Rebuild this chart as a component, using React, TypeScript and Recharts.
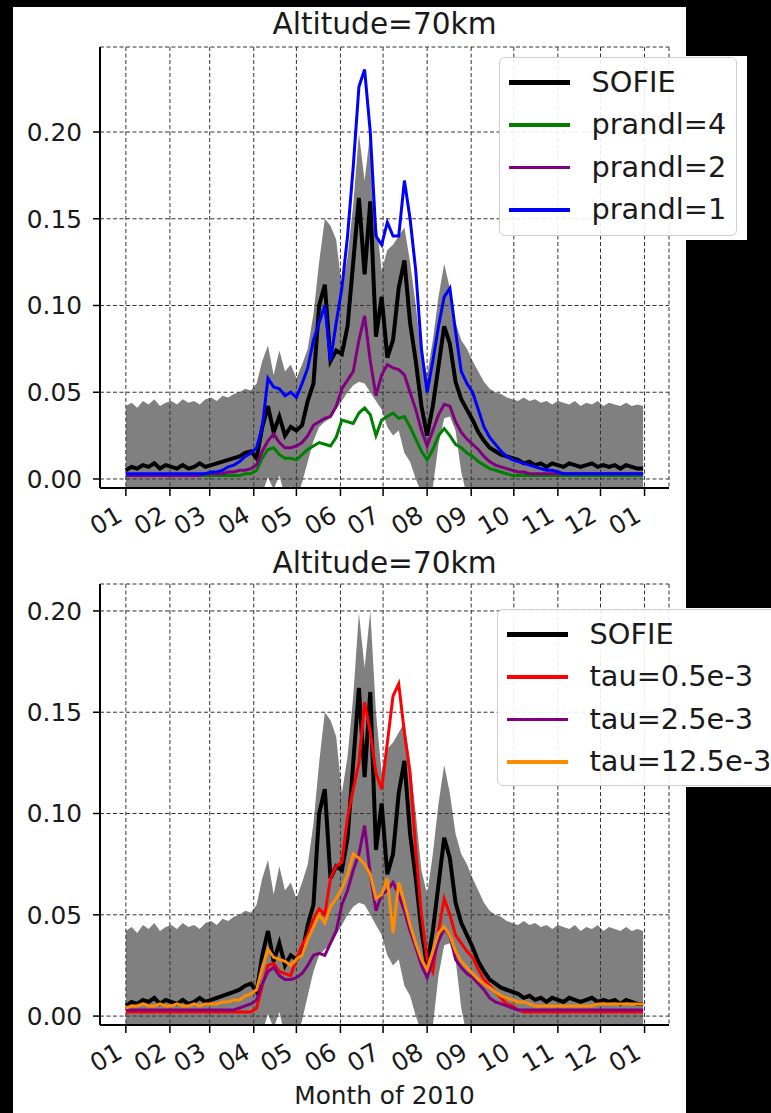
import React from 'react';
import { ComposedChart, Line, Area, XAxis, YAxis, CartesianGrid, Legend } from 'recharts';

// day of year 2010, sampled every 4 days
const days = [
  0, 4, 8, 12, 16, 20, 24, 28, 32, 36,
  40, 44, 48, 52, 56, 60, 64, 68, 72, 76,
  80, 84, 88, 92, 96, 100, 104, 108, 112, 116,
  120, 124, 128, 132, 136, 140, 144, 148, 152, 156,
  160, 164, 168, 172, 176, 180, 184, 188, 192, 196,
  200, 204, 208, 212, 216, 220, 224, 228, 232, 236,
  240, 244, 248, 252, 256, 260, 264, 268, 272, 276,
  280, 284, 288, 292, 296, 300, 304, 308, 312, 316,
  320, 324, 328, 332, 336, 340, 344, 348, 352, 356,
  360, 364,
];

const monthTicks = [0, 31, 59, 90, 120, 151, 181, 212, 243, 273, 304, 334, 365];
const monthLabels = ['01', '02', '03', '04', '05', '06', '07', '08', '09', '10', '11', '12', '01'];
const yTicks = [0, 0.05, 0.1, 0.15, 0.2];

const sofie = [
  0.005, 0.007, 0.006, 0.008, 0.007, 0.009, 0.006, 0.008, 0.007, 0.006,
  0.008, 0.006, 0.007, 0.009, 0.007, 0.008, 0.009, 0.010, 0.011, 0.012,
  0.013, 0.015, 0.016, 0.012, 0.030, 0.042, 0.027, 0.036, 0.025, 0.030,
  0.028, 0.031, 0.045, 0.055, 0.100, 0.112, 0.068, 0.074, 0.072, 0.088,
  0.125, 0.162, 0.118, 0.160, 0.082, 0.105, 0.070, 0.080, 0.110, 0.126,
  0.090, 0.068, 0.042, 0.025, 0.042, 0.065, 0.088, 0.078, 0.056, 0.046,
  0.040, 0.034, 0.027, 0.022, 0.018, 0.016, 0.014, 0.013, 0.012, 0.011,
  0.009, 0.010, 0.008, 0.009, 0.007, 0.009, 0.008, 0.007, 0.009, 0.008,
  0.007, 0.008, 0.009, 0.007, 0.008, 0.007, 0.008, 0.006, 0.008, 0.007,
  0.006, 0.006,
];

const bandHigh = [
  0.042, 0.044, 0.041, 0.045, 0.043, 0.046, 0.042, 0.044, 0.045, 0.043,
  0.046, 0.044, 0.045, 0.043, 0.046, 0.047, 0.045, 0.048, 0.047, 0.049,
  0.050, 0.052, 0.051, 0.055, 0.068, 0.077, 0.060, 0.074, 0.062, 0.066,
  0.058, 0.066, 0.075, 0.095, 0.125, 0.150, 0.146, 0.138, 0.110, 0.128,
  0.158, 0.199, 0.172, 0.200, 0.150, 0.120, 0.132, 0.135, 0.140, 0.145,
  0.125, 0.100, 0.072, 0.060, 0.080, 0.105, 0.124, 0.110, 0.090, 0.080,
  0.075, 0.068, 0.062, 0.056, 0.052, 0.050, 0.049, 0.047, 0.046, 0.045,
  0.047, 0.045, 0.046, 0.044, 0.045, 0.043, 0.045, 0.044, 0.043, 0.045,
  0.042, 0.044, 0.043, 0.045, 0.042, 0.044, 0.043, 0.042, 0.044, 0.042,
  0.043, 0.042,
];

const bandLow = [
  -0.032, -0.030, -0.033, -0.031, -0.034, -0.030, -0.032, -0.031, -0.033, -0.030,
  -0.032, -0.031, -0.033, -0.030, -0.032, -0.031, -0.033, -0.032, -0.030, -0.031,
  -0.030, -0.029, -0.028, -0.026, -0.008, 0.001, -0.006, 0.002, -0.010, -0.004,
  -0.012, -0.002, 0.010, 0.022, 0.030, 0.033, 0.035, 0.040, 0.045, 0.050,
  0.054, 0.056, 0.055, 0.050, 0.045, 0.040, 0.030, 0.025, 0.028, 0.015,
  0.010, 0.000, -0.008, -0.012, -0.005, 0.020, 0.035, 0.036, 0.028, 0.004,
  -0.010, -0.020, -0.025, -0.028, -0.030, -0.031, -0.033, -0.031, -0.032, -0.030,
  -0.033, -0.031, -0.032, -0.030, -0.033, -0.031, -0.032, -0.030, -0.033, -0.031,
  -0.032, -0.030, -0.033, -0.031, -0.032, -0.030, -0.033, -0.031, -0.032, -0.030,
  -0.031, -0.032,
];

const prandl4 = [
  0.002, 0.002, 0.002, 0.002, 0.002, 0.002, 0.002, 0.002, 0.002, 0.002,
  0.002, 0.002, 0.002, 0.002, 0.002, 0.002, 0.002, 0.002, 0.002, 0.002,
  0.002, 0.003, 0.003, 0.005, 0.012, 0.017, 0.018, 0.014, 0.012, 0.012,
  0.011, 0.014, 0.017, 0.019, 0.021, 0.020, 0.019, 0.024, 0.034, 0.033,
  0.032, 0.038, 0.041, 0.037, 0.025, 0.034, 0.036, 0.038, 0.035, 0.036,
  0.030, 0.023, 0.016, 0.011, 0.017, 0.025, 0.029, 0.025, 0.020, 0.018,
  0.015, 0.013, 0.010, 0.008, 0.006, 0.005, 0.004, 0.003, 0.002, 0.002,
  0.002, 0.002, 0.002, 0.002, 0.002, 0.002, 0.002, 0.002, 0.002, 0.002,
  0.002, 0.002, 0.002, 0.002, 0.002, 0.002, 0.002, 0.002, 0.002, 0.002,
  0.002, 0.002,
];

const prandl2 = [
  0.002, 0.002, 0.002, 0.002, 0.002, 0.002, 0.002, 0.002, 0.002, 0.002,
  0.002, 0.002, 0.002, 0.002, 0.003, 0.003, 0.003, 0.003, 0.004, 0.004,
  0.005, 0.005, 0.006, 0.008, 0.016, 0.022, 0.026, 0.021, 0.018, 0.018,
  0.019, 0.021, 0.025, 0.031, 0.033, 0.035, 0.036, 0.042, 0.052, 0.057,
  0.062, 0.080, 0.094, 0.068, 0.048, 0.060, 0.066, 0.064, 0.063, 0.060,
  0.050, 0.040, 0.028, 0.019, 0.028, 0.037, 0.043, 0.042, 0.033, 0.027,
  0.023, 0.020, 0.017, 0.013, 0.010, 0.008, 0.007, 0.006, 0.005, 0.004,
  0.004, 0.003, 0.003, 0.003, 0.003, 0.003, 0.003, 0.003, 0.003, 0.003,
  0.003, 0.003, 0.003, 0.003, 0.003, 0.003, 0.003, 0.003, 0.003, 0.003,
  0.003, 0.003,
];

const prandl1 = [
  0.003, 0.003, 0.003, 0.003, 0.003, 0.003, 0.003, 0.003, 0.003, 0.003,
  0.003, 0.003, 0.003, 0.003, 0.003, 0.004, 0.004, 0.005, 0.007, 0.008,
  0.010, 0.013, 0.015, 0.018, 0.030, 0.058, 0.053, 0.052, 0.048, 0.050,
  0.047, 0.055, 0.064, 0.080, 0.090, 0.100, 0.068, 0.090, 0.110, 0.140,
  0.180, 0.226, 0.236, 0.200, 0.140, 0.135, 0.148, 0.140, 0.140, 0.172,
  0.150, 0.120, 0.075, 0.050, 0.068, 0.088, 0.105, 0.110, 0.085, 0.062,
  0.055, 0.050, 0.040, 0.030, 0.024, 0.020, 0.016, 0.013, 0.011, 0.010,
  0.009, 0.008, 0.007, 0.006, 0.005, 0.005, 0.004, 0.003, 0.003, 0.003,
  0.003, 0.003, 0.003, 0.003, 0.003, 0.003, 0.003, 0.003, 0.003, 0.003,
  0.003, 0.003,
];

const tau05 = [
  0.002, 0.002, 0.002, 0.002, 0.002, 0.002, 0.002, 0.002, 0.002, 0.002,
  0.002, 0.002, 0.002, 0.002, 0.002, 0.002, 0.002, 0.002, 0.002, 0.002,
  0.002, 0.002, 0.002, 0.004, 0.015, 0.025, 0.026, 0.022, 0.021, 0.020,
  0.028, 0.035, 0.040, 0.048, 0.053, 0.050, 0.068, 0.074, 0.076, 0.098,
  0.112, 0.125, 0.155, 0.140, 0.120, 0.112, 0.135, 0.158, 0.164, 0.140,
  0.120, 0.082, 0.050, 0.028, 0.022, 0.042, 0.058, 0.050, 0.040, 0.036,
  0.032, 0.029, 0.023, 0.018, 0.015, 0.012, 0.009, 0.006, 0.005, 0.003,
  0.002, 0.002, 0.002, 0.002, 0.002, 0.002, 0.002, 0.002, 0.002, 0.002,
  0.002, 0.002, 0.002, 0.002, 0.002, 0.002, 0.002, 0.002, 0.002, 0.002,
  0.002, 0.002,
];

const tau25 = [
  0.003, 0.003, 0.003, 0.003, 0.003, 0.003, 0.003, 0.003, 0.003, 0.003,
  0.003, 0.003, 0.003, 0.003, 0.003, 0.003, 0.003, 0.003, 0.003, 0.003,
  0.004, 0.005, 0.006, 0.008, 0.016, 0.022, 0.024, 0.020, 0.018, 0.018,
  0.019, 0.021, 0.025, 0.030, 0.031, 0.030, 0.036, 0.042, 0.055, 0.062,
  0.072, 0.080, 0.094, 0.070, 0.052, 0.060, 0.062, 0.066, 0.060, 0.052,
  0.042, 0.034, 0.025, 0.019, 0.028, 0.037, 0.043, 0.040, 0.028, 0.024,
  0.021, 0.019, 0.016, 0.013, 0.009, 0.007, 0.006, 0.005, 0.004, 0.003,
  0.003, 0.003, 0.003, 0.003, 0.003, 0.003, 0.003, 0.003, 0.003, 0.003,
  0.003, 0.003, 0.003, 0.003, 0.003, 0.003, 0.003, 0.003, 0.003, 0.003,
  0.003, 0.003,
];

const tau125 = [
  0.004, 0.005, 0.005, 0.006, 0.005, 0.005, 0.006, 0.005, 0.005, 0.006,
  0.005, 0.005, 0.006, 0.005, 0.006, 0.006, 0.006, 0.007, 0.007, 0.008,
  0.008, 0.010, 0.011, 0.013, 0.024, 0.033, 0.029, 0.028, 0.027, 0.025,
  0.028, 0.030, 0.038, 0.044, 0.050, 0.046, 0.054, 0.058, 0.063, 0.070,
  0.080, 0.078, 0.075, 0.070, 0.058, 0.060, 0.068, 0.041, 0.066, 0.056,
  0.045, 0.036, 0.028, 0.023, 0.032, 0.041, 0.044, 0.040, 0.032, 0.027,
  0.024, 0.021, 0.018, 0.016, 0.014, 0.012, 0.010, 0.009, 0.008, 0.007,
  0.007, 0.006, 0.005, 0.005, 0.005, 0.005, 0.005, 0.005, 0.005, 0.005,
  0.005, 0.005, 0.005, 0.006, 0.006, 0.006, 0.006, 0.006, 0.006, 0.006,
  0.006, 0.006,
];

const rows = days.map((d, i) => ({
  day: d,
  band: [bandLow[i], bandHigh[i]],
  sofie: sofie[i],
  p4: prandl4[i],
  p2: prandl2[i],
  p1: prandl1[i],
  t05: tau05[i],
  t25: tau25[i],
  t125: tau125[i],
}));

type SeriesDef = { key: string; name: string; color: string; width: number; legendWidth: number };

const topSeries: SeriesDef[] = [
  { key: 'sofie', name: 'SOFIE', color: '#000000', width: 4, legendWidth: 4.5 },
  { key: 'p4', name: 'prandl=4', color: '#008000', width: 3, legendWidth: 3.5 },
  { key: 'p2', name: 'prandl=2', color: '#800080', width: 3, legendWidth: 3.5 },
  { key: 'p1', name: 'prandl=1', color: '#0000ff', width: 3, legendWidth: 3.5 },
];

const bottomSeries: SeriesDef[] = [
  { key: 'sofie', name: 'SOFIE', color: '#000000', width: 4, legendWidth: 4.5 },
  { key: 't05', name: 'tau=0.5e-3', color: '#ff0000', width: 3, legendWidth: 3.5 },
  { key: 't25', name: 'tau=2.5e-3', color: '#800080', width: 3, legendWidth: 3.5 },
  { key: 't125', name: 'tau=12.5e-3', color: '#ff8c00', width: 3, legendWidth: 3.5 },
];

const FONT = 'DejaVu Sans';
const TEXT = '#1a1a1a';
const TICK_FONT = 24.8;
const TITLE_FONT = 29.6;
const LEGEND_FONT = 28.8;

const MonthTick = (props: any) => {
  const { x, y, payload } = props;
  const i = monthTicks.indexOf(payload.value);
  const label = i >= 0 ? monthLabels[i] : '';
  const ax = x - 2;
  const ay = y + 22;
  return (
    <text
      x={ax}
      y={ay}
      transform={`rotate(-30 ${ax} ${ay})`}
      textAnchor="end"
      fill={TEXT}
      style={{ fontSize: TICK_FONT, fontFamily: FONT }}
    >
      {label}
    </text>
  );
};

const LegendBox = ({ items, width, height }: { items: SeriesDef[]; width: number; height: number }) => (
  <div
    style={{
      width,
      height,
      boxSizing: 'border-box',
      background: 'rgba(255,255,255,0.9)',
      border: '1.5px solid #cfcfcf',
      borderRadius: 6,
      paddingTop: 3,
    }}
  >
    {items.map((it) => (
      <div key={it.name} style={{ display: 'flex', alignItems: 'center', height: 42.5 }}>
        <div style={{ width: 61, height: it.legendWidth, background: it.color, marginLeft: 8.5, marginRight: 22 }} />
        <span style={{ fontSize: LEGEND_FONT, fontFamily: FONT, color: TEXT, whiteSpace: 'nowrap', lineHeight: 1 }}>
          {it.name}
        </span>
      </div>
    ))}
  </div>
);

interface PanelProps {
  top: number;
  height: number;
  plotTop: number;
  plotBottom: number;
  titleBaseline: number;
  yDomain: [number, number];
  series: SeriesDef[];
  legend: { left: number; top: number; width: number; height: number };
  xLabel?: string;
}

const PLOT_LEFT = 100;
const PLOT_RIGHT = 669;
const WIDTH = 771;

const Panel = ({ top, height, plotTop, plotBottom, titleBaseline, yDomain, series, legend, xLabel }: PanelProps) => {
  const xDomain: [number, number] = [-18.2, 382.2];
  return (
    <div style={{ position: 'absolute', left: 0, top }}>
      <svg
        width={WIDTH}
        height={plotTop - top}
        style={{ position: 'absolute', left: 0, top: 0, overflow: 'visible' }}
      >
        <text
          x={(PLOT_LEFT + PLOT_RIGHT) / 2}
          y={titleBaseline - top}
          textAnchor="middle"
          fill={TEXT}
          style={{ fontSize: TITLE_FONT, fontFamily: FONT }}
        >
          Altitude=70km
        </text>
      </svg>
      <ComposedChart
        width={WIDTH}
        height={height}
        data={rows}
        margin={{ top: plotTop - top, right: WIDTH - PLOT_RIGHT, bottom: 0, left: PLOT_LEFT - 50 }}
      >
        <Area
          dataKey="band"
          type="linear"
          stroke="none"
          fill="#808080"
          fillOpacity={1}
          isAnimationActive={false}
          legendType="none"
          activeDot={false}
        />
        <CartesianGrid stroke="#333" strokeWidth={1} strokeDasharray="4 2.5" zIndex={150} />
        {series.map((s) => (
          <Line
            key={s.key}
            dataKey={s.key}
            name={s.name}
            type="linear"
            stroke={s.color}
            strokeWidth={s.width}
            dot={false}
            activeDot={false}
            isAnimationActive={false}
          />
        ))}
        <XAxis
          dataKey="day"
          type="number"
          domain={xDomain}
          allowDataOverflow
          ticks={monthTicks}
          interval={0}
          height={top + height - plotBottom}
          tickSize={8}
          tickMargin={2}
          tick={<MonthTick />}
          tickLine={{ stroke: '#000', strokeWidth: 1.5 }}
          axisLine={{ stroke: '#000', strokeWidth: 2 }}
          label={
            xLabel
              ? { value: xLabel, position: 'insideBottom', offset: 9, fill: TEXT, style: { fontSize: TICK_FONT, fontFamily: FONT } }
              : undefined
          }
        />
        <XAxis
          xAxisId="top"
          orientation="top"
          dataKey="day"
          type="number"
          domain={xDomain}
          allowDataOverflow
          height={0}
          tick={false}
          tickLine={false}
          axisLine={{ stroke: '#000', strokeWidth: 2 }}
        />
        <YAxis
          type="number"
          domain={yDomain}
          allowDataOverflow
          ticks={yTicks}
          interval={0}
          width={50}
          tickSize={7}
          tickMargin={11}
          tickFormatter={(v: number) => v.toFixed(2)}
          tick={{ fontSize: TICK_FONT, fontFamily: FONT, fill: TEXT }}
          tickLine={{ stroke: '#000', strokeWidth: 1.5 }}
          axisLine={{ stroke: '#000', strokeWidth: 2 }}
        />
        <YAxis
          yAxisId="right"
          orientation="right"
          type="number"
          domain={yDomain}
          allowDataOverflow
          width={0}
          tick={false}
          tickLine={false}
          axisLine={{ stroke: '#000', strokeWidth: 2 }}
        />
        <Legend
          layout="vertical"
          verticalAlign="middle"
          align="center"
          wrapperStyle={{ left: legend.left, top: legend.top - top, width: legend.width, height: legend.height }}
          content={() => <LegendBox items={series} width={legend.width} height={legend.height} />}
        />
      </ComposedChart>
    </div>
  );
};

export default function App() {
  return (
    <div
      style={{
        position: 'absolute',
        left: 0,
        top: 0,
        width: 771,
        height: 1113,
        overflow: 'hidden',
        background: '#000',
      }}
    >
      <div style={{ position: 'absolute', left: 13, top: 7, width: 673, height: 1106, background: '#fff' }} />
      <div style={{ position: 'absolute', left: 686, top: 56, width: 61, height: 184, background: '#fff' }} />
      <div style={{ position: 'absolute', left: 686, top: 608, width: 85, height: 179, background: '#fff' }} />
      <Panel
        top={0}
        height={540}
        plotTop={47}
        plotBottom={488}
        titleBaseline={34}
        yDomain={[-0.0052, 0.249]}
        series={topSeries}
        legend={{ left: 499, top: 57, width: 238, height: 179 }}
      />
      <Panel
        top={540}
        height={573}
        plotTop={584}
        plotBottom={1025}
        titleBaseline={573}
        yDomain={[-0.0044, 0.2133]}
        series={bottomSeries}
        legend={{ left: 497, top: 609, width: 290, height: 177 }}
        xLabel="Month of 2010"
      />
    </div>
  );
}
